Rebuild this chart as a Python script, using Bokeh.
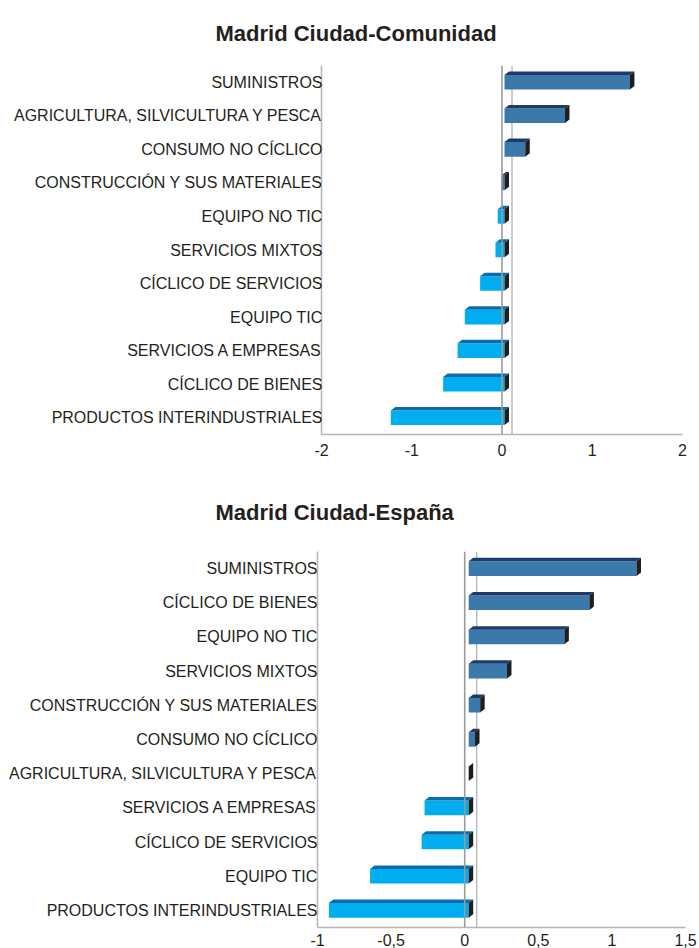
from bokeh.plotting import figure
from bokeh.models import FixedTicker, Span
from bokeh.embed import file_html
from bokeh.resources import INLINE

# ---------------- data ----------------
top_title = "Madrid Ciudad-Comunidad"
top_categories = [
    "SUMINISTROS",
    "AGRICULTURA, SILVICULTURA Y PESCA",
    "CONSUMO NO CÍCLICO",
    "CONSTRUCCIÓN Y SUS MATERIALES",
    "EQUIPO NO TIC",
    "SERVICIOS MIXTOS",
    "CÍCLICO DE SERVICIOS",
    "EQUIPO TIC",
    "SERVICIOS A EMPRESAS",
    "CÍCLICO DE BIENES",
    "PRODUCTOS INTERINDUSTRIALES",
]
top_values = [1.39, 0.67, 0.23, -0.035, -0.075, -0.10, -0.27, -0.44, -0.52, -0.68, -1.26]
top_ticks = [-2, -1, 0, 1, 2]
top_tick_labels = ["-2", "-1", "0", "1", "2"]

bottom_title = "Madrid Ciudad-España"
bottom_categories = [
    "SUMINISTROS",
    "CÍCLICO DE BIENES",
    "EQUIPO NO TIC",
    "SERVICIOS MIXTOS",
    "CONSTRUCCIÓN Y SUS MATERIALES",
    "CONSUMO NO CÍCLICO",
    "AGRICULTURA, SILVICULTURA Y PESCA",
    "SERVICIOS A EMPRESAS",
    "CÍCLICO DE SERVICIOS",
    "EQUIPO TIC",
    "PRODUCTOS INTERINDUSTRIALES",
]
bottom_values = [1.14, 0.82, 0.65, 0.26, 0.078, 0.043, 0.0, -0.30, -0.32, -0.67, -0.95]
bottom_ticks = [-1, -0.5, 0, 0.5, 1, 1.5]
bottom_tick_labels = ["-1", "-0,5", "0", "0,5", "1", "1,5"]

FONT = "Liberation Sans"
TEXT = "#231f20"


def make_chart(title, cats, vals, ticks, tick_labels, xr, frame_w, frame_h,
               left, right, top, bottom, title_offset, title_standoff,
               ylab_standoff, xlab_standoff, front_shift, back_dx, back_dy):
    n = len(cats)
    p = figure(
        frame_width=frame_w, frame_height=frame_h,
        x_range=xr, y_range=(-0.5, n - 0.5),
        min_border_left=left, min_border_right=right,
        min_border_top=top, min_border_bottom=bottom,
        output_backend="svg", toolbar_location=None,
        background_fill_color="white", border_fill_color="white",
    )
    p.outline_line_color = None
    p.grid.visible = False

    kx = (xr[1] - xr[0]) / frame_w   # data units per px
    ky = n / frame_h
    half = 7.3 * ky
    shift = front_shift * kx
    dx = 4.5 * kx
    dy = 3.5 * ky

    ys = [n - 1 - i for i in range(n)]
    x0 = [shift + min(v, 0) for v in vals]
    x1 = [shift + max(v, 0) for v in vals]
    pos = [v > -0.05 for v in vals]
    front_c = ["#3a79aa" if q else "#00aeef" for q in pos]
    top_c = ["#1d3a68" if q else "#0a6cae" for q in pos]

    # zero line and back-wall line
    p.add_layout(Span(location=0, dimension="height", line_color="#9a9a9a", line_width=1.6))
    p.segment(x0=[back_dx * kx], y0=[-0.5 + back_dy * ky], x1=[back_dx * kx], y1=[n - 0.5],
              line_color="#b8b8b8", line_width=1.4)

    # front faces
    p.quad(left=x0, right=x1, bottom=[y - half for y in ys], top=[y + half for y in ys],
           fill_color=front_c, line_color=None)
    # top and side faces
    txs, tys = [], []
    rxs, rys = [], []
    for a, b, y in zip(x0, x1, ys):
        yt, yb = y + half, y - half
        txs.append([a, b, b + dx, a + dx])
        tys.append([yt, yt, yt + dy, yt + dy])
        rxs.append([b, b, b + dx, b + dx])
        rys.append([yb, yt, yt + dy, yb + dy])
    p.patches(txs, tys, fill_color=top_c, line_color=None)
    p.patches(rxs, rys, fill_color="#1f1f1f", line_color=None)

    # axes
    p.yaxis.ticker = FixedTicker(ticks=ys)
    p.yaxis.major_label_overrides = {y: c for y, c in zip(ys, cats)}
    p.xaxis.ticker = FixedTicker(ticks=ticks)
    p.xaxis.major_label_overrides = {t: l for t, l in zip(ticks, tick_labels)}
    for ax in (p.xaxis, p.yaxis):
        ax.axis_line_color = "#b4b4b4"
        ax.axis_line_width = 1.5
        ax.major_tick_line_color = None
        ax.minor_tick_line_color = None
        ax.major_tick_out = 0
        ax.major_tick_in = 0
        ax.major_label_text_font = FONT
        ax.major_label_text_font_size = "16px"
        ax.major_label_text_color = TEXT
    p.yaxis.major_label_standoff = ylab_standoff
    p.xaxis.major_label_standoff = xlab_standoff

    p.title.text = title
    p.title.text_font = FONT
    p.title.text_font_style = "bold"
    p.title.text_font_size = "22px"
    p.title.text_color = TEXT
    p.title.align = "left"
    p.title.vertical_align = "top"
    p.title.offset = title_offset
    p.title.standoff = title_standoff
    return p


p1 = make_chart(top_title, top_categories, top_values, top_ticks, top_tick_labels,
                (-2, 2), 361, 369, 321, 17, 65, 38, -106, 36, -1, 9, 2.5, 10, -8)
p2 = make_chart(bottom_title, bottom_categories, bottom_values, bottom_ticks, bottom_tick_labels,
                (-1, 1.5), 368, 376, 317, 14, 79, 21, -102, 50, 0, 6, 4, 12, -9)

open("out.html", "w").write(file_html([p1, p2], INLINE))
